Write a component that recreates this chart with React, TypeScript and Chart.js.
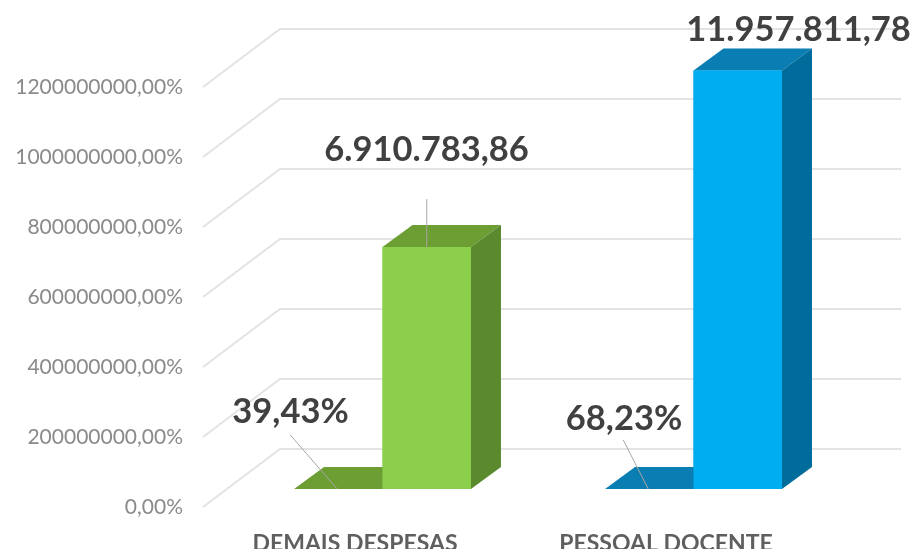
import React, { useEffect, useRef } from "react";
import { Chart, registerables } from "chart.js";

Chart.register(...registerables);

const categories = ["DEMAIS DESPESAS", "PESSOAL DOCENTE"];
const shareValues = [39.43, 68.23];
const amountValues = [691078386, 1195781178];
const shareLabels = ["39,43%", "68,23%"];
const amountLabels = ["6.910.783,86", "11.957.811,78"];
const yTickValues = [0, 200000000, 400000000, 600000000, 800000000, 1000000000, 1200000000];

const FONT = "Lato, 'Open Sans', sans-serif";
const DEPTH_X = 30;
const DEPTH_Y = -22;

const shade = [
  { top: ["#6c9e34", "#0a7db2"], side: ["#6c9e34", "#0a7db2"] },
  { top: ["#6c9e34", "#0a7db2"], side: ["#5b8a2e", "#006c9c"] },
];

const poly = (ctx: CanvasRenderingContext2D, pts: number[][], fill: string) => {
  ctx.beginPath();
  pts.forEach(([x, y], i) => (i ? ctx.lineTo(x, y) : ctx.moveTo(x, y)));
  ctx.closePath();
  ctx.fillStyle = fill;
  ctx.fill();
};

const wallPlugin = {
  id: "wall",
  beforeDatasetsDraw(chart: any) {
    const { ctx, scales } = chart;
    ctx.save();
    ctx.strokeStyle = "#e3e3e3";
    ctx.lineWidth = 2;
    yTickValues.forEach((v) => {
      const y = scales.y.getPixelForValue(v);
      ctx.beginPath();
      ctx.moveTo(203, y + 18);
      ctx.lineTo(280, y - 40);
      ctx.lineTo(901, y - 40);
      ctx.stroke();
    });
    ctx.restore();
  },
};

const facesPlugin = {
  id: "faces",
  afterDatasetsDraw(chart: any) {
    const { ctx } = chart;
    ctx.save();
    chart.data.datasets.forEach((_: any, d: number) => {
      chart.getDatasetMeta(d).data.forEach((bar: any, i: number) => {
        const l = bar.x - bar.width / 2;
        const r = bar.x + bar.width / 2;
        const t = bar.y;
        const b = bar.base;
        poly(ctx, [[l, t], [r, t], [r + DEPTH_X, t + DEPTH_Y], [l + DEPTH_X, t + DEPTH_Y]], shade[d].top[i]);
        if (d === 1) {
          poly(ctx, [[r, t], [r + DEPTH_X, t + DEPTH_Y], [r + DEPTH_X, b + DEPTH_Y], [r, b]], shade[d].side[i]);
          ctx.fillStyle = bar.options.backgroundColor;
          ctx.fillRect(l, t, r - l, b - t);
        }
      });
    });

    // leader lines and data labels
    ctx.textAlign = "center";
    ctx.textBaseline = "middle";
    ctx.font = `bold 34.5px ${FONT}`;
    const m0 = chart.getDatasetMeta(0).data;
    const m1 = chart.getDatasetMeta(1).data;
    shareLabels.forEach((text, i) => {
      const bar = m0[i];
      ctx.strokeStyle = "#a6a6a6";
      ctx.lineWidth = 1;
      ctx.beginPath();
      ctx.moveTo(bar.x + (i === 0 ? -48 : -26), bar.base - (i === 0 ? 54 : 49));
      ctx.lineTo(bar.x - 1, bar.base);
      ctx.stroke();
      ctx.fillStyle = "#404040";
      ctx.fillText(text, i === 0 ? 290.5 : 624, i === 0 ? 412 : 419);
    });
    amountLabels.forEach((text, i) => {
      const bar = m1[i];
      if (i === 0) {
        ctx.strokeStyle = "#a6a6a6";
        ctx.lineWidth = 1;
        ctx.beginPath();
        ctx.moveTo(bar.x, bar.y - 48);
        ctx.lineTo(bar.x, bar.y);
        ctx.stroke();
      }
      ctx.fillStyle = "#404040";
      ctx.fillText(text, i === 0 ? 426.5 : 798.5, i === 0 ? 150 : 30);
    });
    ctx.restore();
  },
};

export default function App() {
  const ref = useRef<HTMLCanvasElement>(null);
  useEffect(() => {
    document.body.style.margin = "0";
    const chart = new Chart(ref.current!, {
      type: "bar",
      data: {
        labels: categories,
        datasets: [
          { label: "%", data: shareValues, backgroundColor: ["#6c9e34", "#0a7db2"], barPercentage: 1, categoryPercentage: 0.569 },
          { label: "R$", data: amountValues, backgroundColor: ["#8ccf4d", "#00aeef"], barPercentage: 1, categoryPercentage: 0.569 },
        ],
      },
      options: {
        animation: false,
        responsive: false,
        layout: { padding: { top: 69, right: 64, left: 0, bottom: 0 } },
        plugins: { legend: { display: false }, tooltip: { enabled: false } },
        scales: {
          x: {
            grid: { display: false, drawTicks: false },
            border: { display: false },
            ticks: {
              color: "#5f5f5f",
              font: { family: FONT, size: 23, weight: "bold" },
              padding: 41,
              labelOffset: -27.5,
              maxRotation: 0,
              autoSkip: false,
            },
            afterFit(s: any) {
              s.height = 60;
            },
          },
          y: {
            min: 0,
            max: 1200000000,
            grid: { display: false, drawTicks: false },
            border: { display: false },
            afterBuildTicks(s: any) {
              s.ticks = yTickValues.map((value) => ({ value }));
            },
            ticks: {
              color: "#8a8a8a",
              font: { family: FONT, size: 21 },
              padding: 44,
              labelOffset: 18.5,
              callback: (v: any) => `${v},00%`,
            },
            afterFit(s: any) {
              s.width = 227;
            },
          },
        },
      },
      plugins: [wallPlugin, facesPlugin],
    } as any);
    return () => chart.destroy();
  }, []);
  return <canvas ref={ref} width={913} height={549} style={{ display: "block" }} />;
}
